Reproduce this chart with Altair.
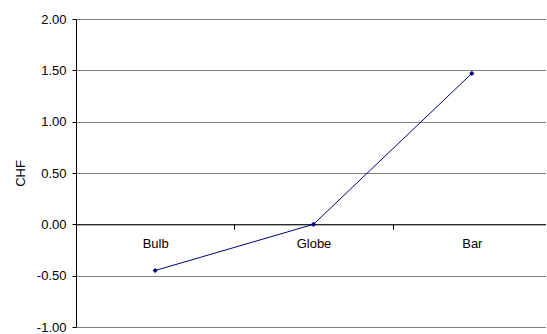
import altair as alt
import pandas as pd

categories = ["Bulb", "Globe", "Bar"]
values = [-0.45, 0.00, 1.47]
y_ticks = [-1.0, -0.5, 0.0, 0.5, 1.0, 1.5, 2.0]

df = pd.DataFrame({"cat": categories, "val": values})

FONT = "Liberation Sans"
H = 308

x_enc = alt.X(
    "cat:N",
    sort=categories,
    scale=alt.Scale(range=[0, 475], paddingInner=0, paddingOuter=0),
    axis=alt.Axis(
        title=None,
        orient="bottom",
        offset=-(H - H * 2 / 3),
        labelAngle=0,
        labelFont=FONT,
        labelFontSize=13,
        labelColor="black",
        labelPadding=8,
        domainColor="black",
        tickColor="black",
        tickSize=5,
        tickBand="extent",
        grid=False,
    ),
)
y_enc = alt.Y(
    "val:Q",
    scale=alt.Scale(domain=[-1, 2], nice=False, zero=False),
    axis=alt.Axis(
        title="CHF",
        values=y_ticks,
        labelExpr="replace(format(datum.value, '.2f'), '\u2212', '-')",
        labelFont=FONT,
        labelFontSize=13,
        labelColor="black",
        labelPadding=6,
        tickSize=4,
        tickColor="black",
        domainColor="black",
        gridColor="#808080",
        gridOpacity=1,
        titleFont=FONT,
        titleFontSize=13,
        titleFontWeight="normal",
        titleColor="black",
        titleAngle=-90,
        titleX=-56,
        titleY=H / 2,
        titleAlign="center",
        titleBaseline="middle",
    ),
)

line = alt.Chart(df).mark_line(color="#000080", strokeWidth=1).encode(x=x_enc, y=y_enc)
pts = alt.Chart(df).mark_point(
    shape="diamond", filled=True, color="#000080", size=26, opacity=1
).encode(x=alt.X("cat:N", sort=categories), y="val:Q")

chart = (
    alt.layer(line, pts)
    .properties(
        width=470,
        height=H,
        autosize=alt.AutoSizeParams(type="none"),
        padding={"left": 76, "top": 19, "right": 0, "bottom": 6},
        background="white",
    )
    .configure_view(stroke=None)
)

chart.save("out.html", embed_options={"renderer": "svg", "actions": False})
